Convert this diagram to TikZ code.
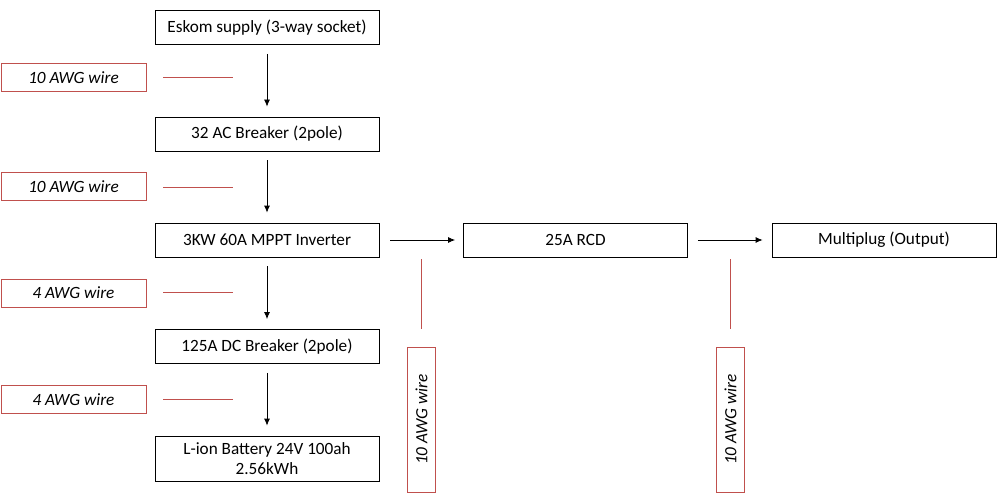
\documentclass[tikz,border=0pt]{standalone}
\usepackage{fontspec}
\setmainfont{Carlito}
\usetikzlibrary{arrows.meta}
\definecolor{wirered}{RGB}{192,80,77}
\tikzset{
  stage/.style={draw=black, line width=0.8pt, minimum width=224pt, minimum height=34pt, inner sep=0pt, align=center, font=\fontsize{17.2}{20.5}\selectfont},
  wirelab/.style={draw=wirered, line width=0.9pt, minimum width=145pt, minimum height=28pt, inner sep=0pt, font=\fontsize{17.2}{18}\selectfont\itshape},
  vwirelab/.style={wirelab, rotate=90},
  flow/.style={-{Latex[length=7pt,width=6pt]}, line width=0.8pt, shorten <=9pt, shorten >=10pt},
  redline/.style={draw=wirered, line width=0.9pt}
}
\begin{document}
\begin{tikzpicture}[x=1pt,y=-1pt]
\useasboundingbox (0,0) rectangle (1000,497);
% main chain
\node[stage] (esk) at (267,27.5) {Eskom supply (3-way socket)};
\node[stage] (ac) at (267,134) {32 AC Breaker (2pole)};
\node[stage] (inv) at (267,240) {3KW 60A MPPT Inverter};
\node[stage] (dc) at (267,346.5) {125A DC Breaker (2pole)};
\node[stage, minimum height=45pt] (bat) at (267,458.5) {L-ion Battery 24V 100ah\\2.56kWh};
\node[stage] (rcd) at (575.5,240) {25A RCD};
\node[stage] (mp) at (884,240) {Multiplug (Output)};
% arrows
\draw[flow] (esk) -- (ac);
\draw[flow] (ac) -- (inv);
\draw[flow] (inv) -- (dc);
\draw[flow] (dc) -- (bat);
\draw[flow, shorten <=11pt, shorten >=8pt] (inv) -- (rcd);
\draw[flow, shorten <=10pt, shorten >=9pt] (rcd) -- (mp);
% wire labels
\node[wirelab] (w1) at (73.5,77.5) {10 AWG wire};
\node[wirelab] (w2) at (73.5,186.5) {10 AWG wire};
\node[wirelab] (w3) at (73.5,293) {4 AWG wire};
\node[wirelab] (w4) at (73.5,399.5) {4 AWG wire};
\node[vwirelab] (w5) at (421.5,419.5) {10 AWG wire};
\node[vwirelab] (w6) at (730.5,419.5) {10 AWG wire};
% red marker lines
\coordinate (l1a) at (163,77); \coordinate (l1b) at (233,77);
\coordinate (l2a) at (163,187); \coordinate (l2b) at (233,187);
\coordinate (l3a) at (163,292.5); \coordinate (l3b) at (233,292.5);
\coordinate (l4a) at (163,399); \coordinate (l4b) at (233,399);
\coordinate (l5a) at (421,259); \coordinate (l5b) at (421,329);
\coordinate (l6a) at (730.5,259); \coordinate (l6b) at (730.5,329);
\draw[redline] (l1a) -- (l1b);
\draw[redline] (l2a) -- (l2b);
\draw[redline] (l3a) -- (l3b);
\draw[redline] (l4a) -- (l4b);
\draw[redline] (l5a) -- (l5b);
\draw[redline] (l6a) -- (l6b);
\end{tikzpicture}
\end{document}
